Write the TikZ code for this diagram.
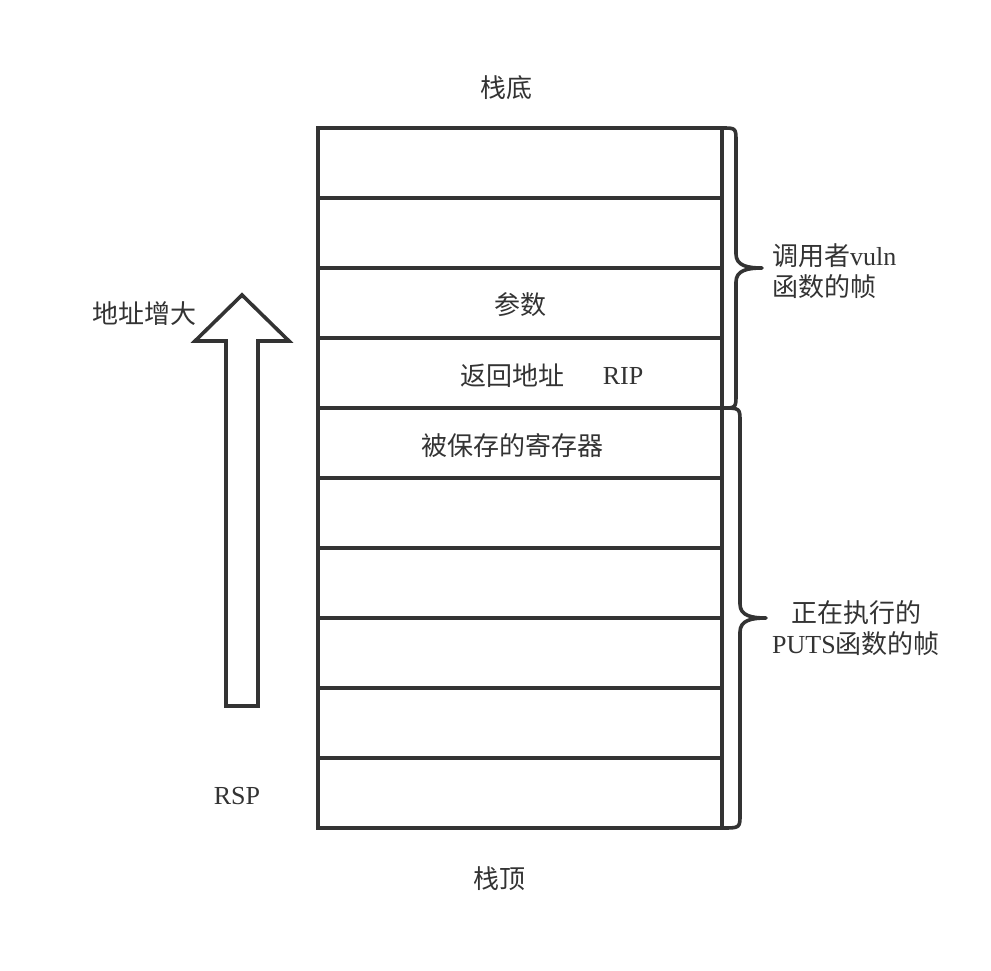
\documentclass[tikz,border=0pt]{standalone}
\usepackage{fontspec}
\setmainfont{Liberation Serif}
\newfontfamily\cjk{Noto Sans CJK SC}
\definecolor{ink}{HTML}{333333}
\begin{document}
\begin{tikzpicture}[x=1pt,y=-1pt,
  cell/.style={draw=ink,line width=3.6pt,minimum width=404pt,minimum height=70pt,inner sep=0pt,outer sep=0pt},
  lbl/.style={text=ink,font=\fontsize{26}{31.5}\selectfont,inner sep=0pt},
  brc/.style={draw=ink,line width=3.6pt,line join=round,line cap=round}]
\useasboundingbox (0,0) rectangle (991,970);
\foreach \i in {1,...,10}{
  \node[cell] (r\i) at (520,{128+70*\i-35}) {};
}
\node[lbl] (bottom) at (506,88) {\cjk 栈底};
\node[lbl] (top) at (499,879) {\cjk 栈顶};
\node[lbl] (param) at (520,305) {\cjk 参数};
\node[lbl] (ret) at (512,376) {\cjk 返回地址};
\node[lbl] (rip) at (623,376) {RIP};
\node[lbl] (saved) at (512,446) {\cjk 被保存的寄存器};
\node[lbl] (grow) at (144,314) {\cjk 地址增大};
\node[lbl] (rsp) at (237,796) {RSP};
\node[lbl,anchor=west,align=left] (caller) at (772,271) {{\cjk 调用者}vuln\\{\cjk 函数的帧}};
\node[lbl,align=center] (callee) at (856,628) {{\cjk 正在执行的}\\PUTS{\cjk 函数的帧}};
% arrow
\draw[draw=ink,line width=3.6pt,line join=miter,fill=white]
  (226,706) -- (226,341) -- (195,341) -- (242,295) -- (289,341) -- (258,341) -- (258,706) -- cycle;
% upper brace
\draw[brc] (r1.north east) .. controls (736,128) .. (736,142) -- (736,254)
  .. controls (736,266) and (748,268) .. (762,268)
  .. controls (748,268) and (736,270) .. (736,282) -- (736,394)
  .. controls (736,408) .. (r4.south east);
% lower brace
\draw[brc] (r5.north east) .. controls (740,408) .. (740,422) -- (740,604)
  .. controls (740,616) and (752,618) .. (766,618)
  .. controls (752,618) and (740,620) .. (740,632) -- (740,814)
  .. controls (740,828) .. (r10.south east);
\end{tikzpicture}
\end{document}
